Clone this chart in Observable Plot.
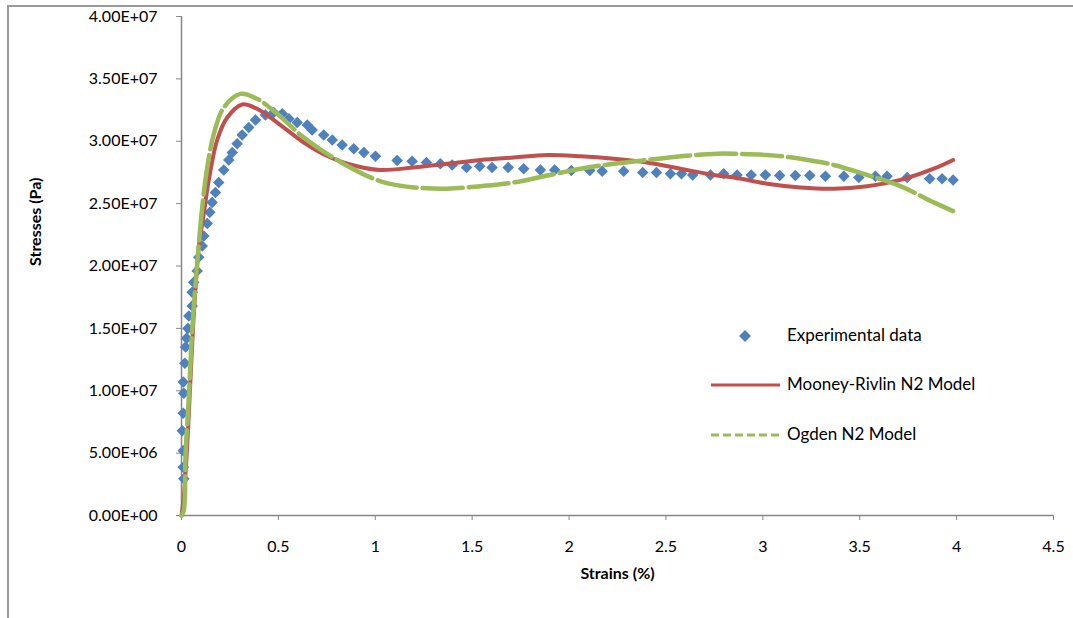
<!DOCTYPE html>
<html>
<head>
<meta charset="utf-8">
<script src="https://cdn.jsdelivr.net/npm/d3@7"></script>
<script src="https://cdn.jsdelivr.net/npm/@observablehq/plot@0.6"></script>
<style>
  html, body { margin: 0; padding: 0; background: #fff; }
  #wrap { position: relative; width: 1073px; height: 618px; overflow: hidden; font-family: Lato, "Open Sans", sans-serif; }
  #frame { position: absolute; left: 7px; top: 5px; width: 1100px; height: 700px; border: 2px solid #9a9a9a; box-sizing: border-box; }
  #chart { position: absolute; left: 0; top: 0; }
  #legend { position: absolute; left: 0; top: 0; width: 1073px; height: 618px; pointer-events: none; }
  .lg { position: absolute; font-size: 17px; color: #000; line-height: 20px; white-space: nowrap; }
</style>
</head>
<body>
<div id="wrap">
  <div id="frame"></div>
  <div id="chart"></div>
  <div id="legend"></div>
</div>
<script>
// ---- Data ----
const seriesNames = ["Experimental data", "Mooney-Rivlin N2 Model", "Ogden N2 Model"];
const xTicks = [0, 0.5, 1, 1.5, 2, 2.5, 3, 3.5, 4, 4.5];
const yTicks = [0, 5e6, 1e7, 1.5e7, 2e7, 2.5e7, 3e7, 3.5e7, 4e7];

const expStrain = [0.012, 0.009, 0.009, 0.004, 0.009, 0.012, 0.009, 0.017, 0.021, 0.026, 0.033, 0.038, 0.055, 0.055, 0.063, 0.081, 0.089, 0.107, 0.115, 0.133, 0.146, 0.158, 0.175, 0.192, 0.218, 0.244, 0.262, 0.287, 0.313, 0.347, 0.382, 0.433, 0.476, 0.520, 0.554, 0.597, 0.649, 0.674, 0.734, 0.778, 0.829, 0.889, 0.941, 1.001, 1.113, 1.190, 1.264, 1.336, 1.397, 1.471, 1.539, 1.603, 1.686, 1.766, 1.852, 1.926, 2.012, 2.107, 2.171, 2.282, 2.380, 2.451, 2.523, 2.580, 2.638, 2.730, 2.798, 2.867, 2.940, 3.013, 3.087, 3.168, 3.242, 3.323, 3.418, 3.495, 3.581, 3.641, 3.745, 3.861, 3.925, 3.982];
const expStress = [2.94e6, 3.87e6, 5.2e6, 6.8e6, 8.2e6, 9.8e6, 10.7e6, 12.2e6, 13.5e6, 14.2e6, 15.0e6, 16.0e6, 16.8e6, 17.9e6, 18.7e6, 19.6e6, 20.7e6, 21.6e6, 22.4e6, 23.4e6, 24.3e6, 25.1e6, 25.9e6, 26.7e6, 27.7e6, 28.5e6, 29.1e6, 29.8e6, 30.5e6, 31.1e6, 31.7e6, 32.1e6, 32.3e6, 32.2e6, 31.8e6, 31.5e6, 31.3e6, 30.9e6, 30.5e6, 30.1e6, 29.7e6, 29.4e6, 29.1e6, 28.8e6, 28.46e6, 28.4e6, 28.3e6, 28.2e6, 28.1e6, 27.9e6, 28.0e6, 27.9e6, 27.9e6, 27.8e6, 27.7e6, 27.7e6, 27.65e6, 27.65e6, 27.6e6, 27.6e6, 27.5e6, 27.5e6, 27.4e6, 27.4e6, 27.3e6, 27.3e6, 27.4e6, 27.3e6, 27.3e6, 27.3e6, 27.25e6, 27.25e6, 27.25e6, 27.2e6, 27.2e6, 27.1e6, 27.2e6, 27.2e6, 27.1e6, 27.0e6, 27.0e6, 26.9e6];

const mrStrain = [0, 0.012, 0.029, 0.046, 0.064, 0.089, 0.115, 0.141, 0.184, 0.236, 0.313, 0.39, 0.494, 0.631, 0.769, 0.906, 1.027, 1.199, 1.371, 1.543, 1.715, 1.887, 2.059, 2.231, 2.403, 2.575, 2.764, 2.85, 3.022, 3.194, 3.366, 3.538, 3.71, 3.882, 3.982];
const mrStress = [0, 1.5e6, 5.5e6, 10.8e6, 16.2e6, 21.5e6, 24.2e6, 26.9e6, 30.1e6, 31.9e6, 32.95e6, 32.6e6, 31.5e6, 29.9e6, 28.7e6, 28.0e6, 27.7e6, 27.9e6, 28.2e6, 28.5e6, 28.7e6, 28.9e6, 28.8e6, 28.6e6, 28.3e6, 27.8e6, 27.25e6, 27.1e6, 26.6e6, 26.3e6, 26.2e6, 26.4e6, 26.9e6, 27.8e6, 28.5e6];

const ogStrain = [0, 0.012, 0.021, 0.038, 0.055, 0.081, 0.107, 0.133, 0.167, 0.218, 0.304, 0.39, 0.494, 0.631, 0.803, 0.975, 1.07, 1.199, 1.371, 1.543, 1.715, 1.887, 2.059, 2.231, 2.403, 2.575, 2.764, 2.85, 3.022, 3.194, 3.366, 3.538, 3.71, 3.882, 3.982];
const ogStress = [0, 0.4e6, 4.9e6, 9.5e6, 14.8e6, 20.2e6, 24.7e6, 27.9e6, 30.6e6, 32.7e6, 33.8e6, 33.4e6, 32.2e6, 30.3e6, 28.5e6, 27.1e6, 26.6e6, 26.3e6, 26.2e6, 26.4e6, 26.7e6, 27.25e6, 27.8e6, 28.2e6, 28.5e6, 28.8e6, 29.0e6, 29.0e6, 28.9e6, 28.6e6, 28.1e6, 27.3e6, 26.4e6, 25.1e6, 24.4e6];

// ---- Build tables ----
const expData = expStrain.map((x, i) => ({x, y: expStress[i]}));
const mrData = mrStrain.map((x, i) => ({x, y: mrStress[i]}));
const ogData = ogStrain.map((x, i) => ({x, y: ogStress[i]}));

const colors = {exp: "#4F81BD", mr: "#C0504D", og: "#9BBB59"};
const axisGray = "#868686";

function sci(n) {
  if (n === 0) return "0.00E+00";
  const e = Math.floor(Math.log10(Math.abs(n)) + 1e-9);
  const m = n / Math.pow(10, e);
  return m.toFixed(2) + "E" + (e >= 0 ? "+" : "-") + String(Math.abs(e)).padStart(2, "0");
}

const chart = Plot.plot({
  width: 1073,
  height: 618,
  marginLeft: 181,
  marginRight: 20,
  marginTop: 16,
  marginBottom: 103,
  style: {fontFamily: "Lato, 'Open Sans', sans-serif", fontSize: "16px", background: "transparent", color: "#000"},
  x: {domain: [0, 4.5]},
  y: {domain: [0, 4e7]},
  marks: [
    Plot.ruleY([0], {stroke: axisGray, strokeWidth: 1.5}),
    Plot.ruleX([0], {stroke: axisGray, strokeWidth: 1.5}),
    Plot.axisX({ticks: xTicks, tickSize: 5, tickPadding: 20, stroke: axisGray, fill: "#000", label: null, tickFormat: d => String(d), fontSize: 16}),
    Plot.axisY({ticks: yTicks, tickSize: 5, tickPadding: 19, stroke: axisGray, fill: "#000", label: null, tickFormat: sci, fontSize: 16}),
    Plot.text(["Stresses (Pa)"], {frameAnchor: "left", dx: -146, rotate: -90, fontWeight: "bold", fontSize: 16, fill: "#000"}),
    Plot.text(["Strains (%)"], {frameAnchor: "bottom", dy: 63, fontWeight: "bold", fontSize: 16, fill: "#000"}),
    Plot.dot(expData, {x: "x", y: "y", symbol: "diamond2", r: 5.2, fill: colors.exp, stroke: "none"}),
    Plot.line(mrData, {x: "x", y: "y", stroke: colors.mr, strokeWidth: 4, curve: "catmull-rom", strokeLinecap: "round"}),
    Plot.line(ogData, {x: "x", y: "y", stroke: colors.og, strokeWidth: 4.5, curve: "catmull-rom", strokeDasharray: "40,6", strokeLinecap: "round"})
  ]
});
document.getElementById("chart").appendChild(chart);

// ---- Legend ----
const lg = document.getElementById("legend");
const items = [
  {name: seriesNames[0], kind: "diamond", color: colors.exp, top: 336},
  {name: seriesNames[1], kind: "line", color: colors.mr, top: 385},
  {name: seriesNames[2], kind: "dash", color: colors.og, top: 435}
];
items.forEach(it => {
  const sw = document.createElementNS("http://www.w3.org/2000/svg", "svg");
  sw.setAttribute("width", 72); sw.setAttribute("height", 16);
  sw.style.position = "absolute"; sw.style.left = "710px"; sw.style.top = (it.top - 8) + "px";
  if (it.kind === "diamond") {
    const p = document.createElementNS("http://www.w3.org/2000/svg", "path");
    p.setAttribute("d", "M35,2 L41,8 L35,14 L29,8 Z");
    p.setAttribute("fill", it.color);
    sw.appendChild(p);
  } else {
    const l = document.createElementNS("http://www.w3.org/2000/svg", "line");
    l.setAttribute("x1", 1); l.setAttribute("x2", 70); l.setAttribute("y1", 8); l.setAttribute("y2", 8);
    l.setAttribute("stroke", it.color); l.setAttribute("stroke-width", 3);
    if (it.kind === "dash") l.setAttribute("stroke-dasharray", "8,4");
    sw.appendChild(l);
  }
  lg.appendChild(sw);
  const t = document.createElement("div");
  t.className = "lg";
  t.textContent = it.name;
  t.style.left = "787px"; t.style.top = (it.top - 11) + "px";
  lg.appendChild(t);
});
</script>
</body>
</html>
